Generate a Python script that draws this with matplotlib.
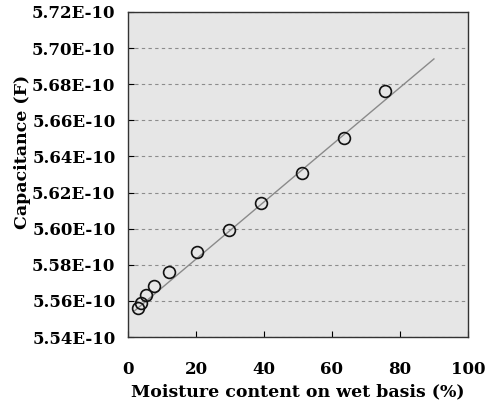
import matplotlib
matplotlib.use("Agg")
from matplotlib import pyplot as plt

# moisture content (% w.b.) and capacitance (x1e-10 F)
moisture = [2.9, 3.8, 5.3, 7.6, 12.1, 20.3, 29.7, 39.1, 51.2, 63.5, 75.6]
capacitance = [5.556, 5.559, 5.563, 5.568, 5.576, 5.587, 5.599, 5.614, 5.631, 5.650, 5.676]

# fitted trend line, end points
fit_x = [2.0, 90.0]
fit_y = [5.5546, 5.6940]

y_ticks = [5.54, 5.56, 5.58, 5.60, 5.62, 5.64, 5.66, 5.68, 5.70, 5.72]
y_labels = ["%.2fE-10" % v for v in y_ticks]
x_ticks = [0, 20, 40, 60, 80, 100]

plt.rcParams['font.family'] = ['DejaVu Serif']
plt.rcParams['font.weight'] = 'bold'

fig = plt.figure(figsize=(4.97, 4.09), dpi=100)
ax = fig.add_axes([0.2575, 0.176, 0.684, 0.7947])
ax.set_facecolor('#e6e6e6')

ax.plot(fit_x, fit_y, color='#8a8a8a', linewidth=1.0, zorder=2)
ax.plot(moisture, capacitance, linestyle='none', marker='o', markersize=8.5,
        markerfacecolor='none', markeredgecolor='#111111', markeredgewidth=1.2, zorder=3)

ax.set_xlim(0, 100)
ax.set_ylim(5.54, 5.72)
ax.set_xticks(x_ticks)
ax.set_yticks(y_ticks)
ax.set_yticklabels(y_labels)
ax.yaxis.grid(True, linestyle=(0, (3, 3)), color='#8c8c8c', linewidth=0.8)
ax.set_axisbelow(True)

ax.tick_params(axis='x', direction='in', length=4, pad=17, labelsize=12)
ax.tick_params(axis='y', direction='in', length=4, pad=9, labelsize=12)
for s in ax.spines.values():
    s.set_color('#333333')
    s.set_linewidth(1.0)

ax.set_xlabel('Moisture content on wet basis (%)', fontsize=12.5, fontweight='bold', labelpad=4)
ax.set_ylabel('Capacitance (F)', fontsize=12.5, fontweight='bold')
ax.yaxis.set_label_coords(-0.285, 0.57)

fig.savefig('out.png', dpi=100)
